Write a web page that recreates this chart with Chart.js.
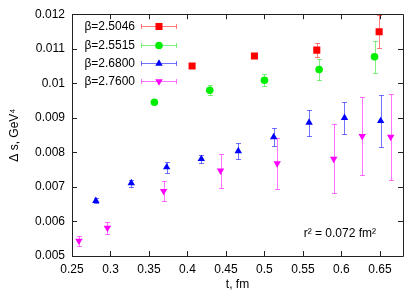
<!DOCTYPE html>
<html>
<head>
<meta charset="utf-8">
<script src="https://cdn.jsdelivr.net/npm/chart.js@4"></script>
<style>
  html, body { margin: 0; padding: 0; background: #fff; }
</style>
</head>
<body>
<canvas id="chart" width="415" height="291"></canvas>
<script>
// beta = 2.5046
const t1 = [0.406, 0.487, 0.568, 0.649];
const s1 = [0.01050, 0.01079, 0.01096, 0.01149];
const e1 = [0.00004, 0.00005, 0.00020, 0.00048];
// beta = 2.5515
const t2 = [0.357, 0.429, 0.500, 0.571, 0.643];
const s2 = [0.00945, 0.00980, 0.01009, 0.01040, 0.01077];
const e2 = [0.00006, 0.00015, 0.00017, 0.00031, 0.00046];
// beta = 2.6800
const t3 = [0.281, 0.327, 0.373, 0.418, 0.466, 0.512, 0.558, 0.604, 0.651];
const s3 = [0.00660, 0.00711, 0.00757, 0.00781, 0.00804, 0.00844, 0.00886, 0.00900, 0.00891];
const e3 = [0.00008, 0.00010, 0.00016, 0.00012, 0.00023, 0.00026, 0.00038, 0.00047, 0.00076];
// beta = 2.7600
const t4 = [0.259, 0.296, 0.369, 0.443, 0.5165, 0.590, 0.627, 0.664];
const s4 = [0.00544, 0.00581, 0.00688, 0.00747, 0.00768, 0.00781, 0.00847, 0.00845];
const e4 = [0.00015, 0.00017, 0.00029, 0.00049, 0.00075, 0.00100, 0.00112, 0.00124];

const betaLabels = ['β=2.5046', 'β=2.5515', 'β=2.6800', 'β=2.7600'];
const xTicks = [0.25, 0.3, 0.35, 0.4, 0.45, 0.5, 0.55, 0.6, 0.65];
const yTicks = [0.005, 0.006, 0.007, 0.008, 0.009, 0.01, 0.011, 0.012];

Chart.defaults.font.family = "'Liberation Sans', Arial, sans-serif";
Chart.defaults.font.size = 12;
Chart.defaults.color = '#000';

function points(xs, ys) {
    return xs.map((x, i) => ({ x: x, y: ys[i] }));
}

function makeSet(label, xs, ys, errs, color, errColor, style, radius, rotation) {
    return {
        label: label,
        data: points(xs, ys),
        errors: errs,
        errColor: errColor,
        pointStyle: style,
        pointRadius: radius,
        pointHoverRadius: radius,
        rotation: rotation,
        backgroundColor: color,
        borderColor: color,
        borderWidth: 0,
        showLine: false
    };
}

const datasets = [
    makeSet(betaLabels[0], t1, s1, e1, '#ff0000', 'rgba(255,0,0,0.5)', 'rect', 5, 0),
    makeSet(betaLabels[1], t2, s2, e2, '#00ee00', 'rgba(0,230,0,0.5)', 'circle', 3.8, 0),
    makeSet(betaLabels[2], t3, s3, e3, '#0000ff', 'rgba(0,0,255,0.55)', 'triangle', 4.3, 0),
    makeSet(betaLabels[3], t4, s4, e4, '#ff00ff', 'rgba(255,0,255,0.55)', 'triangle', 4.3, 180)
];

function bar(ctx, x, y1, y2, cap) {
    ctx.moveTo(x, y1); ctx.lineTo(x, y2);
    ctx.moveTo(x - cap, y1); ctx.lineTo(x + cap, y1);
    ctx.moveTo(x - cap, y2); ctx.lineTo(x + cap, y2);
}

// frame with inward ticks + error bars
const framePlugin = {
    id: 'frame',
    beforeDatasetsDraw(chart) {
        const ctx = chart.ctx;
        const a = chart.chartArea;
        const xs = chart.scales.x, ys = chart.scales.y;
        ctx.save();
        ctx.strokeStyle = '#222';
        ctx.lineWidth = 1;
        ctx.beginPath();
        ctx.rect(Math.round(a.left) + 0.5, Math.round(a.top) + 0.5,
                 Math.round(a.right - a.left), Math.round(a.bottom - a.top));
        const tl = 5;
        xTicks.forEach(v => {
            const x = Math.round(xs.getPixelForValue(v)) + 0.5;
            ctx.moveTo(x, a.bottom); ctx.lineTo(x, a.bottom - tl);
            ctx.moveTo(x, a.top); ctx.lineTo(x, a.top + tl);
        });
        yTicks.forEach(v => {
            const y = Math.round(ys.getPixelForValue(v)) + 0.5;
            ctx.moveTo(a.left, y); ctx.lineTo(a.left + tl, y);
            ctx.moveTo(a.right, y); ctx.lineTo(a.right - tl, y);
        });
        ctx.stroke();

        chart.data.datasets.forEach(ds => {
            ctx.strokeStyle = ds.errColor;
            ctx.beginPath();
            ds.data.forEach((p, j) => {
                const x = Math.round(xs.getPixelForValue(p.x)) + 0.5;
                const yT = Math.round(ys.getPixelForValue(p.y + ds.errors[j])) + 0.5;
                const yB = Math.round(ys.getPixelForValue(p.y - ds.errors[j])) + 0.5;
                bar(ctx, x, yT, yB, 2.5);
            });
            ctx.stroke();
        });
        ctx.restore();
    },
    afterDatasetsDraw(chart) {
        const ctx = chart.ctx;
        const a = chart.chartArea;
        ctx.save();
        ctx.font = "12px 'Liberation Sans', Arial, sans-serif";
        ctx.textBaseline = 'middle';
        chart.data.datasets.forEach((ds, i) => {
            const y = Math.round(a.top + 12 + i * 18.3) + 0.5;
            ctx.fillStyle = '#000';
            ctx.textAlign = 'right';
            ctx.fillText(ds.label, a.left + 63, y);
            const x1 = a.left + 69.5, x2 = a.left + 104.5;
            ctx.strokeStyle = ds.errColor;
            ctx.lineWidth = 1;
            ctx.beginPath();
            ctx.moveTo(x1, y); ctx.lineTo(x2, y);
            ctx.moveTo(x1, y - 2.5); ctx.lineTo(x1, y + 2.5);
            ctx.moveTo(x2, y - 2.5); ctx.lineTo(x2, y + 2.5);
            ctx.stroke();
            ctx.fillStyle = ds.backgroundColor;
            ctx.strokeStyle = ds.borderColor;
            Chart.helpers.drawPoint(ctx, {
                pointStyle: ds.pointStyle,
                radius: ds.pointRadius,
                rotation: ds.rotation,
                borderWidth: 0
            }, (x1 + x2) / 2, y);
        });
        ctx.fillStyle = '#000';
        ctx.textAlign = 'right';
        ctx.fillText('r² = 0.072 fm²', a.right - 27, a.bottom - 22);
        ctx.restore();
    }
};

new Chart(document.getElementById('chart'), {
    type: 'scatter',
    data: { datasets: datasets },
    plugins: [framePlugin],
    options: {
        responsive: false,
        animation: false,
        layout: { padding: { top: 14, right: 12, left: 0, bottom: 0 } },
        plugins: {
            legend: { display: false },
            tooltip: { enabled: false }
        },
        scales: {
            x: {
                type: 'linear',
                min: 0.25,
                max: 0.68,
                grid: { display: false, drawTicks: false },
                border: { display: false },
                afterBuildTicks: scale => { scale.ticks = xTicks.map(v => ({ value: v })); },
                afterFit: scale => { scale.height = 35; },
                ticks: {
                    padding: 6,
                    autoSkip: false,
                    maxRotation: 0,
                    callback: v => String(+v.toFixed(4))
                },
                title: {
                    display: true,
                    text: 't, fm',
                    font: { size: 12, lineHeight: 1 },
                    padding: { top: 0, bottom: 0 }
                }
            },
            y: {
                type: 'linear',
                min: 0.005,
                max: 0.012,
                grid: { display: false, drawTicks: false },
                border: { display: false },
                afterBuildTicks: scale => { scale.ticks = yTicks.map(v => ({ value: v })); },
                afterFit: scale => { scale.width = 72; },
                ticks: {
                    padding: 7,
                    autoSkip: false,
                    callback: v => String(+v.toFixed(4))
                },
                title: {
                    display: true,
                    text: 'Δ s, GeV⁴',
                    font: { size: 12, lineHeight: 1 },
                    padding: { top: 9, bottom: 0 }
                }
            }
        }
    }
});
</script>
</body>
</html>
